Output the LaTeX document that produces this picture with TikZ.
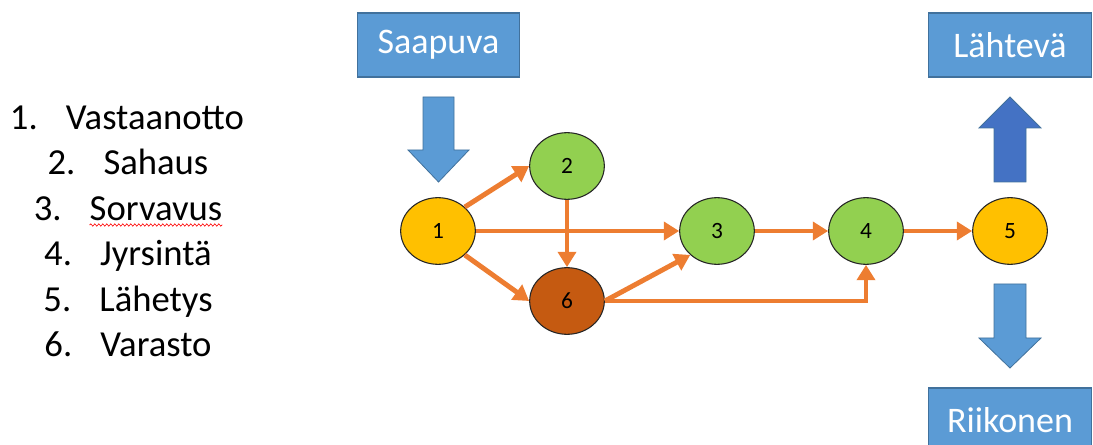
\documentclass[tikz,border=0pt]{standalone}
\usepackage{fontspec}
\setmainfont{Carlito}
\usetikzlibrary{arrows.meta,shapes.geometric,decorations.pathmorphing}
\definecolor{boxblue}{HTML}{5B9BD5}
\definecolor{boxline}{HTML}{41719C}
\definecolor{darkblue}{HTML}{4472C4}
\definecolor{flow}{HTML}{ED7D31}
\definecolor{ygold}{HTML}{FFC000}
\definecolor{lgreen}{HTML}{92D050}
\definecolor{rust}{HTML}{C55A11}

\begin{document}
\begin{tikzpicture}[
  x=0.75pt, y=-0.75pt,
  >={Triangle[length=11.5pt,width=13.5pt]},
  stage/.style={ellipse, draw=black!85, line width=0.8pt, minimum width=56pt, minimum height=50pt,
                inner sep=0pt, font=\fontsize{17.5}{20}\selectfont},
  io/.style={rectangle, draw=boxline, line width=0.8pt, fill=boxblue, text=white,
             minimum width=122pt, minimum height=48pt, inner sep=0pt, font=\fontsize{27}{32}\selectfont},
  item/.style={anchor=base, inner sep=0pt, font=\fontsize{27.5}{32}\selectfont},
  bigarrow/.style={draw=boxline, line width=0.6pt, fill=boxblue},
  e/.style={->, line width=3.7pt, draw=flow},
]
\useasboundingbox (0,0) rectangle (1093,445);

% stage list
\node[item] (l1) at (127,130) {\makebox[42pt][l]{1.}Vastaanotto};
\node[item] (l2) at (128,175) {\makebox[42pt][l]{2.}Sahaus};
\node[item] (l3) at (128,221) {\makebox[42pt][l]{3.}Sorvavus};
\node[item] (l4) at (128,266) {\makebox[42pt][l]{4.}Jyrsintä};
\node[item] (l5) at (128,312) {\makebox[42pt][l]{5.}Lähetys};
\node[item] (l6) at (128,357) {\makebox[42pt][l]{6.}Varasto};
\draw[red, line width=0.5pt, decorate, decoration={snake, amplitude=0.8pt, segment length=3pt}]
  ([xshift=42pt,yshift=-3pt]l3.base west) -- ([yshift=-3pt]l3.base east);

% in/out boxes
\node[io] (in)    at (438.5,45) {Saapuva};
\node[io] (out)   at (1010,45)  {Lähtevä};
\node[io] (scrap) at (1010,420) {Riikonen};

% block arrows
\draw[bigarrow] (423,97) -- (454,97) -- (454,150) -- (469,150) -- (438.5,182)
  -- (408,150) -- (423,150) -- cycle;
\draw[bigarrow, fill=darkblue] (994,182) -- (1026,182) -- (1026,128) -- (1041,128) -- (1010,97)
  -- (979,128) -- (994,128) -- cycle;
\draw[bigarrow] (994,284) -- (1026,284) -- (1026,338) -- (1041,338) -- (1010,368)
  -- (979,338) -- (994,338) -- cycle;

% stages
\node[stage, fill=ygold]  (n1) at (438,231) {1};
\node[stage, fill=lgreen] (n2) at (567,166) {2};
\node[stage, fill=rust]   (n6) at (567,301) {6};
\node[stage, fill=lgreen] (n3) at (717,231) {3};
\node[stage, fill=lgreen] (n4) at (866,231) {4};
\node[stage, fill=ygold]  (n5) at (1010,231) {5};

\draw[e] (n1.north east) -- (n2.west);
\draw[e] (n1.east) -- (n3.west);
\draw[e] (n1.south east) -- (n6.west);
\draw[e] (n2.south) -- (n6.north);
\draw[e] (n6.east) -- (n3.south west);
\draw[e] (n6.east) -| (n4.south);
\draw[e] (n3.east) -- (n4.west);
\draw[e] (n4.east) -- (n5.west);
\end{tikzpicture}
\end{document}
